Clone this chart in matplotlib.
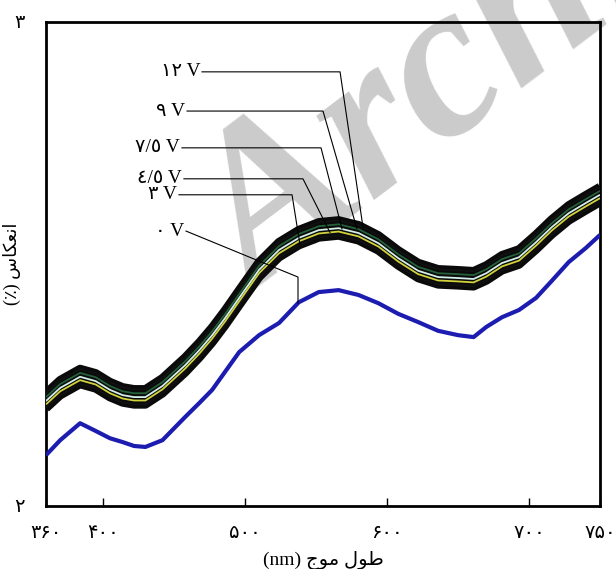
#!/usr/bin/env python3
# -*- coding: utf-8 -*-

import numpy as np
import matplotlib

matplotlib.use("Agg")
import matplotlib.pyplot as plt

# wavelength in nm
wl = [360, 370, 384, 395, 405, 414, 422, 430, 442, 458, 468, 477, 486, 496,
      510, 524, 538, 552, 566, 580, 594, 608, 622, 636, 650, 661, 670, 681,
      693, 705, 716, 728, 740, 750]

# reflectance (%)
r_0v = [2.105, 2.136, 2.171, 2.155, 2.140, 2.132, 2.124, 2.122, 2.136, 2.184,
        2.213, 2.240, 2.277, 2.318, 2.353, 2.378, 2.421, 2.442, 2.446, 2.436,
        2.419, 2.397, 2.380, 2.362, 2.353, 2.349, 2.370, 2.390, 2.405, 2.430,
        2.465, 2.504, 2.533, 2.560]
r_3v = [2.202, 2.229, 2.252, 2.243, 2.225, 2.214, 2.210, 2.210, 2.233, 2.276,
        2.307, 2.338, 2.373, 2.415, 2.473, 2.514, 2.539, 2.555, 2.559, 2.549,
        2.528, 2.497, 2.471, 2.458, 2.456, 2.454, 2.466, 2.487, 2.499, 2.530,
        2.561, 2.590, 2.611, 2.628]
r_45v = [2.210, 2.237, 2.260, 2.251, 2.233, 2.222, 2.218, 2.218, 2.241, 2.284,
         2.315, 2.346, 2.381, 2.423, 2.481, 2.522, 2.547, 2.563, 2.567, 2.557,
         2.536, 2.505, 2.479, 2.466, 2.464, 2.462, 2.474, 2.495, 2.507, 2.538,
         2.569, 2.598, 2.619, 2.636]
r_75v = [2.217, 2.244, 2.267, 2.258, 2.240, 2.229, 2.225, 2.225, 2.248, 2.291,
         2.322, 2.353, 2.388, 2.430, 2.488, 2.529, 2.554, 2.570, 2.574, 2.564,
         2.543, 2.512, 2.486, 2.473, 2.471, 2.469, 2.481, 2.502, 2.514, 2.545,
         2.576, 2.605, 2.626, 2.643]
r_9v = [2.225, 2.252, 2.275, 2.266, 2.248, 2.237, 2.233, 2.233, 2.256, 2.299,
        2.330, 2.361, 2.396, 2.438, 2.496, 2.537, 2.562, 2.578, 2.582, 2.572,
        2.551, 2.520, 2.494, 2.481, 2.479, 2.477, 2.489, 2.510, 2.522, 2.553,
        2.584, 2.613, 2.634, 2.651]
r_12v = [2.233, 2.260, 2.283, 2.274, 2.256, 2.245, 2.241, 2.241, 2.264, 2.307,
         2.338, 2.369, 2.404, 2.446, 2.504, 2.545, 2.570, 2.586, 2.590, 2.580,
         2.559, 2.528, 2.502, 2.489, 2.487, 2.485, 2.497, 2.518, 2.530, 2.561,
         2.592, 2.621, 2.642, 2.659]

x_ticks = [360, 400, 500, 600, 700, 750]
x_tick_labels = ["\u06F3\u06F6\u06F0", "\u06F4\u06F0\u06F0", "\u06F5\u06F0\u06F0",
                 "\u06F6\u06F0\u06F0", "\u06F7\u06F0\u06F0", "\u06F7\u06F5\u06F0"]
y_ticks = [2, 3]
y_tick_labels = ["\u06F2", "\u06F3"]

# Persian labels, already shaped and in visual order
x_label = "(nm) \uFE9D\uFEEE\uFEE3 \uFEDD\uFEEE\uFEC3"        # طول موج (nm)
y_label = "(\u066A) \uFEB1\uFE8E\uFB91\uFECC\uFEE7\uFE8D"     # انعکاس (٪)

FONTS = ["Liberation Serif", "DejaVu Sans"]
plt.rcParams["font.family"] = FONTS

fig = plt.figure(figsize=(6.16, 5.69), dpi=100)
ax = fig.add_axes([46 / 616, 1 - 506 / 569, 554 / 616, 484 / 569])
ax.patch.set_alpha(0)

# faint watermark behind everything
fig.text(0.415, 0.475, "Archive of SID", rotation=37, rotation_mode="anchor",
         fontsize=160, fontweight="bold", style="italic", color="#cbcbcb",
         family="Liberation Serif", zorder=-5)

# 0 V curve
ax.plot(wl, r_0v, color="#1c1cb0", lw=3.0, solid_capstyle="butt", zorder=3)

# the bundle of biased curves: black casings, thin coloured cores
bundle = [
    (r_3v, "#111111"),
    (r_45v, "#d2d23c"),
    (r_75v, "#d4efe8"),
    (r_9v, "#24603a"),
    (r_12v, "#111111"),
]
for r, col in bundle:
    ax.plot(wl, r, color="#0a0a0a", lw=6.2, solid_capstyle="butt", zorder=4)
for r, col in bundle:
    ax.plot(wl, r, color=col, lw=1.3, solid_capstyle="butt", zorder=5)

# leader labels: text, text x, text y, elbow x, elbow y, end x, series
labels = [
    ("\u06F1\u06F2 V", 469.8, 2.897, 567.0, 2.897, 583.2, r_12v),
    ("\u06F9 V", 459.3, 2.816, 555.0, 2.816, 578.9, r_9v),
    ("\u0667/\u0665 V", 455.7, 2.740, 553.6, 2.740, 568.4, r_75v),
    ("\u0664/\u0665 V", 457.1, 2.676, 540.9, 2.676, 559.9, r_45v),
    ("\u06F3 V", 453.6, 2.643, 533.2, 2.643, 538.8, r_3v),
    ("\u06F0 V", 458.6, 2.568, 537.4, 2.473, 537.4, r_0v),
]
for txt, tx, ty, ex, ey, px, r in labels:
    py = np.interp(px, wl, r)
    ax.plot([tx, ex, px], [ty, ey, py], color="black", lw=0.8, zorder=6)
    ax.text(tx - 1.2, ty, txt, ha="right", va="center", fontsize=14,
            family=FONTS, zorder=6)

ax.set_xlim(360, 750)
ax.set_ylim(2, 3)
ax.set_xticks(x_ticks)
ax.set_xticklabels(x_tick_labels)
ax.set_yticks(y_ticks)
ax.set_yticklabels(y_tick_labels)
ax.tick_params(axis="x", direction="in", length=6, width=1, pad=14,
               labelsize=14)
ax.tick_params(axis="y", length=0, pad=15, labelsize=14)
for s in ax.spines.values():
    s.set_linewidth(2)

ax.set_xlabel(x_label, fontsize=14, labelpad=6)
ax.set_ylabel(y_label, fontsize=13)
ax.yaxis.set_label_coords(-0.046, 0.5)

fig.savefig("out.png", dpi=100)
